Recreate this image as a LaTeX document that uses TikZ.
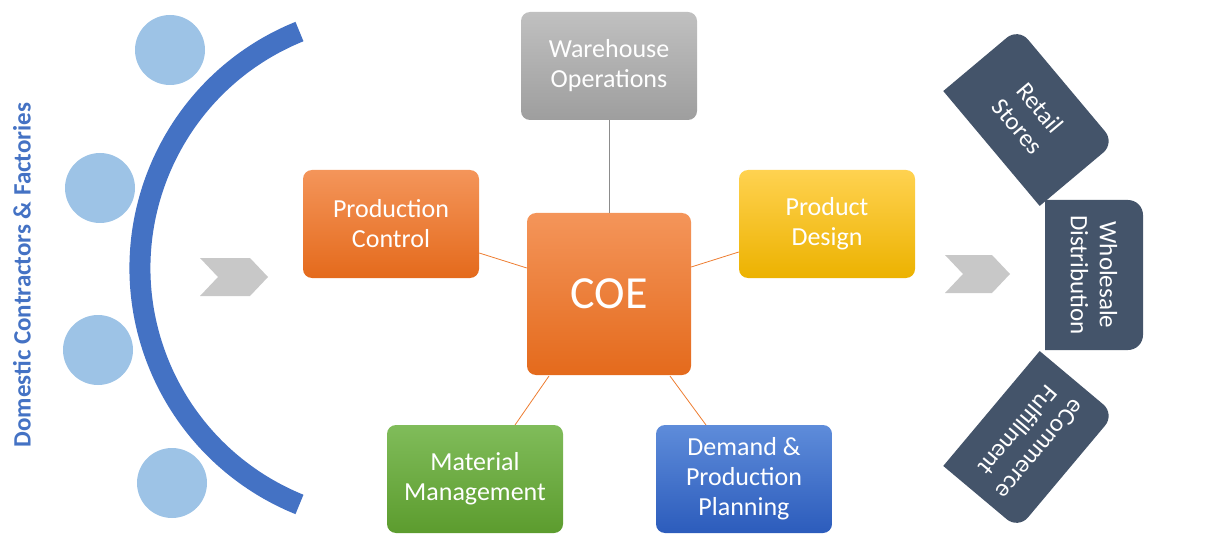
\documentclass[tikz,border=0pt]{standalone}
\usepackage{fontspec}
\setmainfont{Carlito}
\definecolor{dk}{HTML}{44546A}
\definecolor{cir}{HTML}{9DC3E6}
\definecolor{arcb}{HTML}{4472C4}
\tikzset{
  bx/.style={rounded corners=9pt, minimum width=176pt, minimum height=108pt, text=white, font=\fontsize{26}{30}\selectfont, align=center, inner sep=0pt},
  og/.style={bx, top color={rgb,255:red,244;green,149;blue,90}, bottom color={rgb,255:red,228;green,106;blue,28}},
  yg/.style={bx, top color={rgb,255:red,255;green,210;blue,80}, bottom color={rgb,255:red,236;green,178;blue,0}},
  gg/.style={bx, top color={rgb,255:red,128;green,188;blue,90}, bottom color={rgb,255:red,92;green,156;blue,46}},
  bg/.style={bx, top color={rgb,255:red,94;green,140;blue,218}, bottom color={rgb,255:red,44;green,92;blue,188}},
  gr/.style={bx, top color={rgb,255:red,192;green,192;blue,192}, bottom color={rgb,255:red,158;green,158;blue,158}},
  link/.style={draw={rgb,255:red,237;green,125;blue,49}, line width=0.8pt},
  circ/.style={circle, fill=cir, minimum size=70pt, inner sep=0pt},
  chev/.style={fill={rgb,255:red,200;green,200;blue,200}},
  outtxt/.style={text=white, font=\fontsize{25}{29}\selectfont, align=center, transform shape}
}
\newcommand\outbox[4]{%
  \begin{scope}[shift={(#1,#2)}, rotate=#3]
    \fill[dk] (-75,-49) -- (75,-49) -- (75,34) arc (0:90:15) -- (-60,49) arc (90:180:15) -- cycle;
    \node[outtxt] at (0,0) {#4};
  \end{scope}}
\begin{document}
\begin{tikzpicture}[x=1pt,y=1pt]
\useasboundingbox (0,0) rectangle (1227,550);
% left
\draw[arcb, line width=21pt] (395,282) ++(112:255) arc (112:248:255);
\node[circ] (c1) at (170,500) {};
\node[circ] (c2) at (100,362) {};
\node[circ] (c3) at (98,200) {};
\node[circ] (c4) at (172,67) {};
\node[rotate=90, text=arcb, font=\bfseries\fontsize{25}{29}\selectfont] (dom) at (22,275) {Domestic Contractors \& Factories};
% chevrons
\fill[chev] (200,292) -- (250,292) -- (268,273) -- (250,254) -- (200,254) -- (218,273) -- cycle;
\fill[chev] (945,295) -- (992,295) -- (1010,276) -- (992,257) -- (945,257) -- (963,276) -- cycle;
% boxes
\node[gr] (wh) at (609,484) {Warehouse\\Operations};
\node[og] (pc) at (391,326) {Production\\Control};
\node[yg] (pd) at (827,326) {Product\\Design};
\node[og, minimum width=164pt, minimum height=162pt, font=\fontsize{46}{50}\selectfont] (coe) at (609,256) {COE};
\node[gg] (mm) at (475,71) {Material\\Management};
\node[bg] (dp) at (744,71) {Demand \&\\Production\\Planning};
\draw[draw={rgb,255:red,140;green,140;blue,140}, line width=0.6pt] (wh) -- (coe);
\draw[link] (pc.east |- 0,297) -- (coe.west |- 0,282);
\draw[link] (coe.east |- 0,283) -- (pd.west |- 0,298);
\draw[link] (549,174) -- (515,125);
\draw[link] (670,174) -- (706,125);
% outputs
\outbox{1029}{433}{-50}{Retail\\Stores}
\outbox{1094}{275}{-90}{Wholesale\\Distribution}
\outbox{1029}{110}{-130}{eCommerce\\Fulfillment}
\end{tikzpicture}
\end{document}
